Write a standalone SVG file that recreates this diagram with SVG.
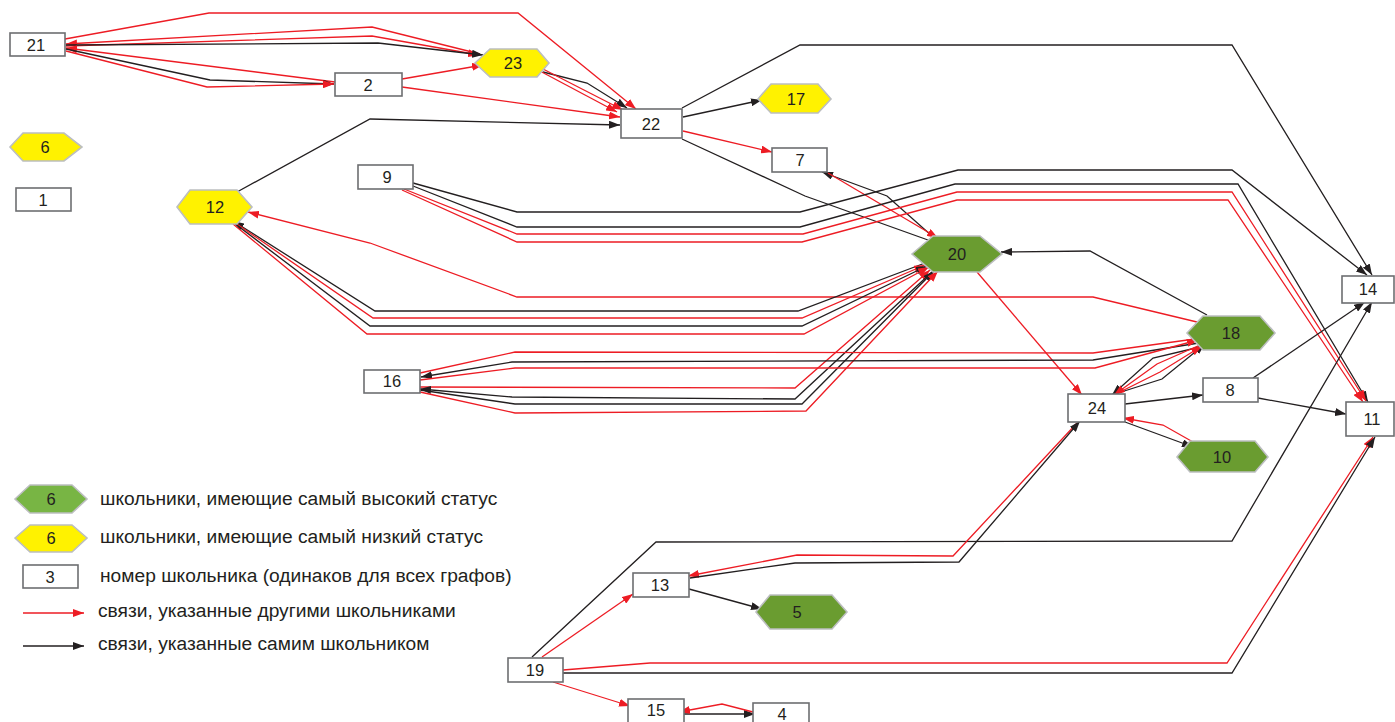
<svg xmlns="http://www.w3.org/2000/svg" width="1395" height="722" viewBox="0 0 1395 722">
<style>
.r{fill:none;stroke:#ed1c24;stroke-width:1.3}
.k{fill:none;stroke:#231f20;stroke-width:1.3}
.ra{marker-end:url(#ar)}
.ka{marker-end:url(#ak)}
.box{fill:#fff;stroke:#6d6e71;stroke-width:1.6}
.hy{fill:#fff200;stroke:#bcbec0;stroke-width:1.6}
.hg{fill:#6a9c30;stroke:#bcbec0;stroke-width:1.6}
.hl{fill:#78b544;stroke:#bcbec0;stroke-width:1.6}
text{font-family:"Liberation Sans",Arial,sans-serif;fill:#231f20}
.n{font-size:16.5px;text-anchor:middle}
.lg{font-size:19.2px}
</style>
<defs>
<marker id="ar" markerUnits="userSpaceOnUse" markerWidth="11" markerHeight="8" refX="11" refY="4" orient="auto"><path d="M0,0 L11,4 L0,8 z" fill="#ed1c24"/></marker>
<marker id="ak" markerUnits="userSpaceOnUse" markerWidth="11" markerHeight="8" refX="11" refY="4" orient="auto"><path d="M0,0 L11,4 L0,8 z" fill="#231f20"/></marker>
</defs>
<g id="connectors">
<polyline class="r ra" points="65,39 209,13 518,13 636,109"/>
<polyline class="r ra" points="480,54 372,27 66,44"/>
<polyline class="r ra" points="66,46 372,36 479,55"/>
<polyline class="k ka" points="66,45 378,43 483,55"/>
<polyline class="r ra" points="335,82 66,48"/>
<polyline class="k ka" points="66,49 210,80 334,84"/>
<polyline class="r ra" points="66,51 207,87 334,84"/>
<polyline class="r ra" points="402,79 483,65"/>
<polyline class="r ra" points="402,87 620,117"/>
<polyline class="k ka" points="237,192 370,119 620,125"/>
<polyline class="k ka" points="543,72 587,83 627,108"/>
<polyline class="r ra" points="538,70 617,112"/>
<polyline class="r ra" points="543,69 623,110"/>
<polyline class="k ka" points="682,108 800,45 1232,45 1372,275"/>
<polyline class="k ka" points="683,117 762,100"/>
<polyline class="r ra" points="683,131 772,152"/>
<polyline class="k" points="682,139 805,196 928,240"/>
<polyline class="k ka" points="932,236 887,196 822,172"/>
<polyline class="r ra" points="828,173 938,238"/>
<polyline class="k ka" points="413,183 517,212 800,212 958,170 1232,170 1367,275"/>
<polyline class="k ka" points="413,186 517,227 800,227 955,184 1238,184 1368,402"/>
<polyline class="r ra" points="404,189 517,234 803,234 957,192 1232,192 1366,401"/>
<polyline class="r ra" points="402,190 517,242 802,242 957,200 1228,200 1363,402"/>
<polyline class="r ra" points="977,272 1082,395"/>
<polyline class="k ka" points="1207,315 1090,251 1001,252"/>
<polyline class="r ra" points="1197,322 1093,297 517,297 370,243 248,212"/>
<polyline class="k ka" points="925,263 798,311 375,311 233,221"/>
<polyline class="r ra" points="234,222 373,318 802,318 925,265"/>
<polyline class="k ka" points="234,223 370,326 802,326 927,266"/>
<polyline class="r ra" points="233,224 367,334 804,334 929,267"/>
<polyline class="r ra" points="420,387 795,388 930,270"/>
<polyline class="k ka" points="933,271 795,399 512,397 420,389"/>
<polyline class="k ka" points="420,390 515,404 802,404 934,271"/>
<polyline class="r ra" points="420,392 515,413 806,411 938,271"/>
<polyline class="r ra" points="420,373 515,352 1093,353 1202,338"/>
<polyline class="k ka" points="1205,342 1093,360 512,362 421,377"/>
<polyline class="r ra" points="420,380 515,368 1095,368 1198,340"/>
<polyline class="k ka" points="1200,347 1153,358 1112,395"/>
<polyline class="k ka" points="1118,393 1162,379 1205,344"/>
<polyline class="r ra" points="1200,345 1157,364 1114,395"/>
<polyline class="r ra" points="1116,394 1160,372 1202,346"/>
<polyline class="k ka" points="1125,404 1203,395"/>
<polyline class="k ka" points="1253,378 1365,302"/>
<polyline class="k ka" points="1258,398 1346,414"/>
<polyline class="k ka" points="1125,422 1193,447"/>
<polyline class="r ra" points="1193,442 1163,425 1123,418"/>
<polyline class="k ka" points="532,657 656,542 1232,541 1372,302"/>
<polyline class="r ra" points="542,657 633,594"/>
<polyline class="r ra" points="1077,423 953,556 797,555 688,576"/>
<polyline class="k ka" points="690,578 795,563 959,562 1080,421"/>
<polyline class="k ka" points="689,589 762,609"/>
<polyline class="r ra" points="563,670 650,663 1227,663 1373,437"/>
<polyline class="k ka" points="563,673 1232,673 1375,437"/>
<polyline class="r ra" points="553,682 630,706"/>
<polyline class="k ka" points="684,714 755,714"/>
<polyline class="r ra" points="753,712 722,704 679,712"/>
</g>
<g id="n21"><rect class="box" x="10" y="33" width="55" height="23"/><text class="n" x="36" y="51">21</text></g>
<g id="n2"><rect class="box" x="335" y="73" width="67" height="23"/><text class="n" x="368" y="91">2</text></g>
<g id="n6"><polygon class="hy" points="10,147 23,133 64,133 82,147 64,161 23,161"/><text class="n" x="45" y="153">6</text></g>
<g id="n1"><rect class="box" x="16" y="188" width="55" height="23"/><text class="n" x="43" y="206">1</text></g>
<g id="n12"><polygon class="hy" points="177,207 190,190 237,190 252,207 237,224 190,224"/><text class="n" x="215" y="213">12</text></g>
<g id="n23"><polygon class="hy" points="475,63 490,49 537,49 549,63 537,77 490,77"/><text class="n" x="513" y="69">23</text></g>
<g id="n22"><rect class="box" x="621" y="109" width="61" height="29"/><text class="n" x="651" y="130">22</text></g>
<g id="n17"><polygon class="hy" points="758,99 771,84 818,84 831,99 818,113 771,113"/><text class="n" x="796" y="105">17</text></g>
<g id="n7"><rect class="box" x="772" y="148" width="55" height="24"/><text class="n" x="800" y="166">7</text></g>
<g id="n9"><rect class="box" x="358" y="165" width="55" height="24"/><text class="n" x="387" y="183">9</text></g>
<g id="n20"><polygon class="hg" points="912,254 933,236 980,236 1002,254 980,272 933,272"/><text class="n" x="957" y="260">20</text></g>
<g id="n14"><rect class="box" x="1342" y="276" width="52" height="27"/><text class="n" x="1368" y="295">14</text></g>
<g id="n18"><polygon class="hg" points="1187,333 1203,316 1260,316 1275,333 1260,350 1203,350"/><text class="n" x="1231" y="339">18</text></g>
<g id="n16"><rect class="box" x="364" y="370" width="56" height="23"/><text class="n" x="392" y="387">16</text></g>
<g id="n8"><rect class="box" x="1203" y="378" width="55" height="24"/><text class="n" x="1230" y="396">8</text></g>
<g id="n24"><rect class="box" x="1068" y="394" width="57" height="28"/><text class="n" x="1097" y="414">24</text></g>
<g id="n11"><rect class="box" x="1346" y="402" width="48" height="34"/><text class="n" x="1372" y="425">11</text></g>
<g id="n10"><polygon class="hg" points="1177,457 1190,441 1255,441 1268,457 1255,472 1190,472"/><text class="n" x="1222" y="463">10</text></g>
<g id="n13"><rect class="box" x="633" y="573" width="56" height="24"/><text class="n" x="660" y="591">13</text></g>
<g id="n5"><polygon class="hg" points="756,612 770,595 832,595 847,612 832,629 770,629"/><text class="n" x="797" y="618">5</text></g>
<g id="n19"><rect class="box" x="508" y="658" width="55" height="24"/><text class="n" x="535" y="676">19</text></g>
<g id="n15"><rect class="box" x="628" y="699" width="56" height="24"/><text class="n" x="656" y="716">15</text></g>
<g id="n4"><rect class="box" x="753" y="703" width="56" height="24"/><text class="n" x="782" y="720">4</text></g>
<g id="legend">
<polygon class="hl" points="15,499 30,485 72,485 87,499 72,513 30,513"/><text class="n" x="51" y="505">6</text>
<text class="lg" x="100" y="505">школьники, имеющие самый высокий статус</text>
<polygon class="hy" points="15,538 30,525 72,525 87,538 72,552 30,552"/><text class="n" x="51" y="544">6</text>
<text class="lg" x="100" y="543">школьники, имеющие самый низкий статус</text>
<rect class="box" x="23" y="565" width="55" height="23"/><text class="n" x="50" y="583">3</text>
<text class="lg" x="100" y="582">номер школьника (одинаков для всех графов)</text>
<line class="r ra" x1="23" y1="613" x2="84" y2="613"/>
<text class="lg" x="98" y="617">связи, указанные другими школьниками</text>
<line class="k ka" x1="23" y1="646" x2="84" y2="646"/>
<text class="lg" x="98" y="650">связи, указанные самим школьником</text>
</g>
</svg>
